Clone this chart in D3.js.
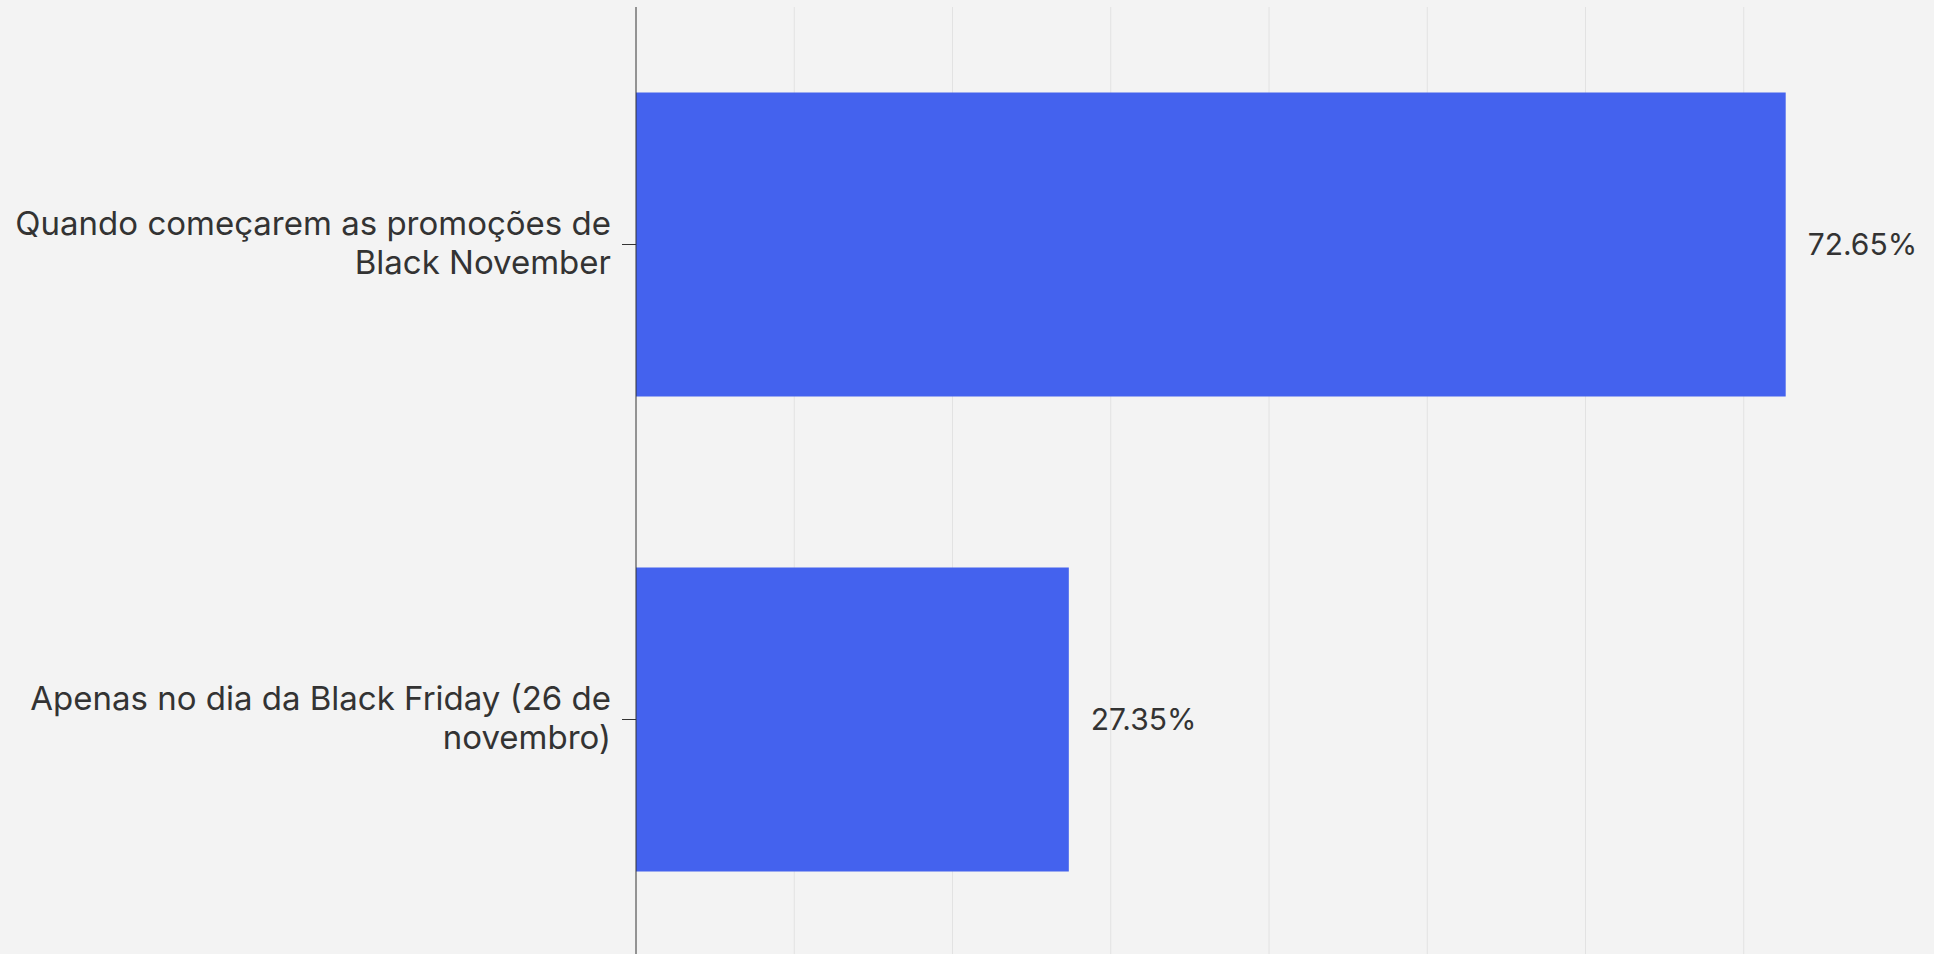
<!DOCTYPE html>
<html>
<head>
<meta charset="utf-8">
<script src="https://cdn.jsdelivr.net/npm/d3@7"></script>
<style>
  html, body { margin: 0; padding: 0; background: #f3f3f3; }
  svg { display: block; }
  text { font-family: Inter, "Noto Sans", sans-serif; fill: #333333; }
</style>
</head>
<body>
<svg id="chart" width="1934" height="954"></svg>
<script>
// Survey answers and their shares (%)
const categories = [
  "Quando começarem as promoções de Black November",
  "Apenas no dia da Black Friday (26 de novembro)"
];
const values = [72.65, 27.35];
const gridTicks = [10, 20, 30, 40, 50, 60, 70];

const width = 1934, height = 954;
const margin = { top: 7, right: 32, bottom: -3, left: 636 };

const svg = d3.select("#chart");

const x = d3.scaleLinear()
  .domain([0, 80])
  .range([margin.left, width - margin.right]);

const y = d3.scaleBand()
  .domain(categories)
  .range([margin.top, height - margin.bottom])
  .paddingInner(0.36)
  .paddingOuter(0.18);

// vertical gridlines
svg.append("g")
  .selectAll("line")
  .data(gridTicks)
  .join("line")
  .attr("x1", d => x(d)).attr("x2", d => x(d))
  .attr("y1", margin.top).attr("y2", height - margin.bottom)
  .attr("stroke", "#e2e2e2")
  .attr("stroke-width", 1);

// bars
svg.append("g")
  .selectAll("rect")
  .data(values)
  .join("rect")
  .attr("x", x(0))
  .attr("y", (d, i) => y(categories[i]))
  .attr("width", d => x(d) - x(0))
  .attr("height", y.bandwidth())
  .attr("fill", "#4462ee");

// value labels
svg.append("g")
  .selectAll("text")
  .data(values)
  .join("text")
  .attr("x", d => x(d) + 22)
  .attr("y", (d, i) => y(categories[i]) + y.bandwidth() / 2)
  .attr("dy", "0.35em")
  .style("font-size", "30px")
  .text(d => d.toFixed(2) + "%");

// category axis
const yAxis = svg.append("g")
  .attr("transform", `translate(${x(0)},0)`)
  .call(d3.axisLeft(y).tickSize(14).tickPadding(11));
yAxis.select(".domain").attr("stroke", "#333333").attr("d", `M0,${margin.top}V${height - margin.bottom}`);
yAxis.selectAll(".tick line").attr("stroke", "#333333");
yAxis.selectAll(".tick text")
  .style("font-size", "33px")
  .style("font-family", "Inter, 'Noto Sans', sans-serif")
  .attr("fill", "#333333")
  .call(wrap, 615);

// break long labels over several lines, centred on the tick
function wrap(sel, maxWidth) {
  sel.each(function () {
    const t = d3.select(this);
    const words = t.text().split(/\s+/);
    const xPos = t.attr("x");
    t.text(null);
    const lines = [];
    let line = [];
    const probe = t.append("tspan");
    for (const w of words) {
      line.push(w);
      probe.text(line.join(" "));
      if (probe.node().getComputedTextLength() > maxWidth && line.length > 1) {
        line.pop();
        lines.push(line.join(" "));
        line = [w];
      }
    }
    lines.push(line.join(" "));
    probe.remove();
    const lh = 1.2;
    const first = -((lines.length - 1) * lh) / 2 + 0.3;
    lines.forEach((l, i) => {
      t.append("tspan")
        .attr("x", xPos)
        .attr("dy", (i === 0 ? first : lh) + "em")
        .text(l);
    });
    t.attr("dy", null);
  });
}
</script>
</body>
</html>
